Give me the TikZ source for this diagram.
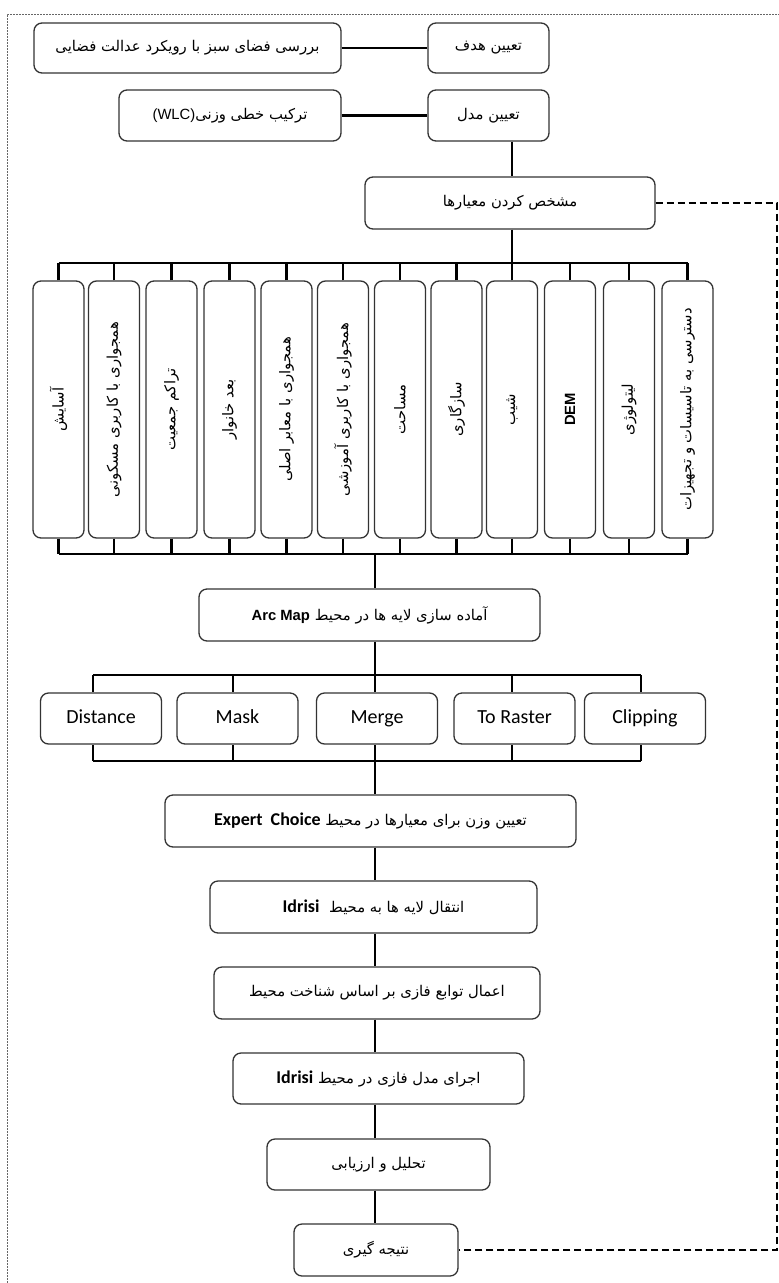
\documentclass[tikz,border=0pt]{standalone}
\usepackage{fontspec}
\TeXXeTstate=1
\newfontfamily\fafont[Script=Arabic]{DejaVu Sans}
\newfontfamily\latfont{Liberation Sans}
\newfontfamily\calfont{Carlito}
\newcommand\fatxt[1]{{\fafont\beginR #1\endR}}
\tikzset{
  box/.style={draw=black!80, line width=1.3pt, rounded corners=8pt, inner sep=0pt, align=center,
              font=\fontsize{14.8}{17}\selectfont},
  hbox/.style={box, minimum height=52pt},
  vbox/.style={box, minimum width=51pt, minimum height=257pt},
  rowbox/.style={box, minimum width=121pt, minimum height=51pt, text height=14pt, text depth=4pt,
                 font=\calfont\fontsize{20}{23}\selectfont},
  conn/.style={line width=2.2pt, black},
  fb/.style={line width=2.6pt, black, dash pattern=on 7pt off 4pt},
  frame/.style={line width=0.9pt, black!60, dash pattern=on 2pt off 1pt},
}
\begin{document}
\begin{tikzpicture}[x=1pt,y=-1pt]
\useasboundingbox (0,0) rectangle (779,1283);
\draw[frame] (7,1283) -- (7,14) -- (779,14);

% top part
\node[hbox, minimum width=121pt, minimum height=50pt] (hadaf) at (488.5,48) {\fatxt{تعیین هدف}};
\node[hbox, minimum width=307pt, minimum height=50pt] (barrasi) at (187.5,48) {\fatxt{بررسی فضای سبز با رویکرد عدالت فضایی}};
\node[hbox, minimum width=121pt, minimum height=51pt] (model) at (488.5,115.5) {\fatxt{تعیین مدل}};
\node[hbox, minimum width=222pt, minimum height=51pt] (tarkib) at (230,115.5) {{\latfont (WLC)}\fatxt{ترکیب خطی وزنی}};
\node[hbox, minimum width=290pt] (moshakhas) at (510,203) {\fatxt{مشخص کردن معیارها}};
\draw[conn, line width=2.6pt] (barrasi) -- (hadaf);
\draw[conn, line width=2.6pt] (tarkib) -- (model);
\coordinate (spA) at (512,0);
\draw[conn] (spA |- model.south) -- (spA |- moshakhas.north);

% vertical criteria boxes
\node[vbox] (v1) at (58.5,409.5) {\rotatebox{90}{\fatxt{آسایش}}};
\node[vbox] (v2) at (114,409.5) {\rotatebox{90}{\fatxt{همجواری با کاربری مسکونی}}};
\node[vbox] (v3) at (171.5,409.5) {\rotatebox{90}{\fatxt{تراکم جمعیت}}};
\node[vbox] (v4) at (229.5,409.5) {\rotatebox{90}{\fatxt{بعد خانوار}}};
\node[vbox] (v5) at (286.5,409.5) {\rotatebox{90}{\fatxt{همجواری با معابر اصلی}}};
\node[vbox] (v6) at (343,409.5) {\rotatebox{90}{\fatxt{همجواری با کاربری آموزشی}}};
\node[vbox] (v7) at (400,409.5) {\rotatebox{90}{\fatxt{مساحت}}};
\node[vbox] (v8) at (456.5,409.5) {\rotatebox{90}{\fatxt{سازگاری}}};
\node[vbox] (v9) at (512,409.5) {\rotatebox{90}{\fatxt{شیب}}};
\node[vbox] (v10) at (570,409.5) {\rotatebox{90}{\latfont\bfseries DEM}};
\node[vbox] (v11) at (629,409.5) {\rotatebox{90}{\fatxt{لیتولوژی}}};
\node[vbox] (v12) at (687.5,409.5) {\rotatebox{90}{\fatxt{دسترسی به تاسیسات و تجهیزات}}};

\coordinate (busT) at (0,263);
\coordinate (busB) at (0,554);
\draw[conn] (spA |- moshakhas.south) -- (spA |- busT);
\draw[conn] (v1.north |- busT) -- (v12.north |- busT);
\draw[conn] (v1.south |- busB) -- (v12.south |- busB);
\foreach \i in {1,...,12}{
  \draw[conn] (v\i.north) -- (v\i.north |- busT);
  \draw[conn] (v\i.south) -- (v\i.south |- busB);
}

% arc map
\node[hbox, minimum width=341pt] (arcmap) at (369.5,615) {{\latfont\bfseries Arc Map} \fatxt{آماده سازی لایه ها در محیط}};
\coordinate (spB) at (375,0);
\draw[conn] (spB |- busB) -- (spB |- arcmap.north);

% tools row
\node[rowbox] (dist) at (101,718.5) {Distance};
\node[rowbox] (mask) at (237.5,718.5) {Mask};
\node[rowbox] (merge) at (377,718.5) {Merge};
\node[rowbox] (raster) at (514.5,718.5) {To Raster};
\node[rowbox] (clip) at (645,718.5) {Clipping};
\coordinate (busC) at (0,675);
\coordinate (busD) at (0,761);
\coordinate (t1) at (93,0);
\coordinate (t2) at (233,0);
\coordinate (t3) at (375,0);
\coordinate (t4) at (512,0);
\coordinate (t5) at (641,0);
\draw[conn] (spB |- arcmap.south) -- (spB |- busC);
\draw[conn] (t1 |- busC) -- (t5 |- busC);
\draw[conn] (t1 |- busD) -- (t5 |- busD);
\draw[conn] (t1 |- busC) -- (t1 |- dist.north);
\draw[conn] (t2 |- busC) -- (t2 |- mask.north);
\draw[conn] (t3 |- busC) -- (t3 |- merge.north);
\draw[conn] (t4 |- busC) -- (t4 |- raster.north);
\draw[conn] (t5 |- busC) -- (t5 |- clip.north);
\draw[conn] (t1 |- busD) -- (t1 |- dist.south);
\draw[conn] (t2 |- busD) -- (t2 |- mask.south);
\draw[conn] (t3 |- busD) -- (t3 |- merge.south);
\draw[conn] (t4 |- busD) -- (t4 |- raster.south);
\draw[conn] (t5 |- busD) -- (t5 |- clip.south);

% lower chain
\node[hbox, minimum width=411pt] (expert) at (370.5,821) {{\calfont\bfseries\fontsize{18}{21}\selectfont Expert\ \ Choice} \fatxt{تعیین وزن برای معیارها در محیط}};
\node[hbox, minimum width=327pt] (idrisiA) at (373.5,907) {{\calfont\bfseries\fontsize{18}{21}\selectfont Idrisi}\ \ \fatxt{انتقال لایه ها به محیط}};
\node[hbox, minimum width=326pt] (aamal) at (377,993) {\fatxt{اعمال توابع فازی بر اساس شناخت محیط}};
\node[hbox, minimum width=291pt, minimum height=51pt] (ejra) at (378.5,1078.5) {{\calfont\bfseries\fontsize{18}{21}\selectfont Idrisi} \fatxt{اجرای مدل فازی در محیط}};
\node[hbox, minimum width=223pt, minimum height=51pt] (tahlil) at (378.5,1164.5) {\fatxt{تحلیل و ارزیابی}};
\node[hbox, minimum width=164pt] (natije) at (376,1250) {\fatxt{نتیجه گیری}};
\draw[conn] (spB |- busD) -- (spB |- expert.north);
\draw[conn] (spB |- expert.south) -- (spB |- idrisiA.north);
\draw[conn] (spB |- idrisiA.south) -- (spB |- aamal.north);
\draw[conn] (spB |- aamal.south) -- (spB |- ejra.north);
\draw[conn] (spB |- ejra.south) -- (spB |- tahlil.north);
\draw[conn] (spB |- tahlil.south) -- (spB |- natije.north);

% feedback loop
\coordinate (fbR) at (777,0);
\draw[fb] (moshakhas.east) -- (moshakhas.east -| fbR) -- (natije.east -| fbR) -- (natije.east);
\end{tikzpicture}
\end{document}
